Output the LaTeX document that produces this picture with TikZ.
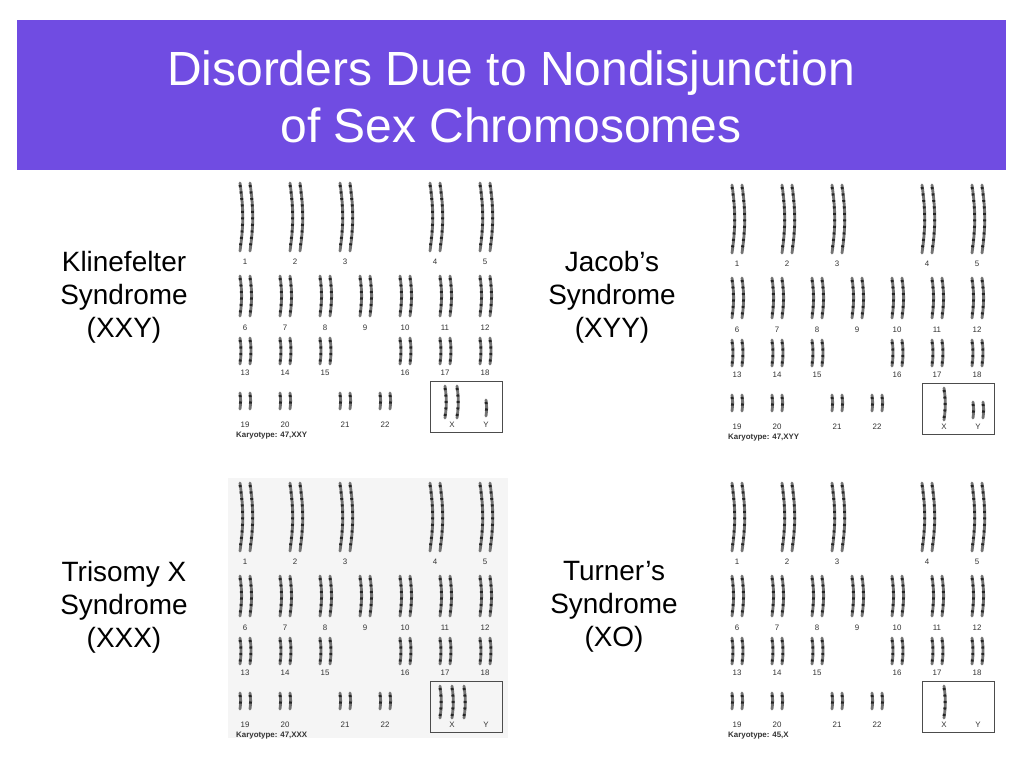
\documentclass[tikz,border=0pt]{standalone}
\usepackage{fontspec}
\setmainfont{Liberation Sans}
\begin{document}
\begin{tikzpicture}[x=0.02cm,y=-0.02cm,
  lbl/.style={align=center,font=\fontsize{15.9}{18.7}\selectfont,text=black},
  num/.style={font=\fontsize{4.5}{5}\selectfont,text=black!80},
  captxt/.style={font=\fontsize{4.5}{5}\selectfont\bfseries,text=black!80,anchor=west},
  chrom/.style={line width=1.6pt,line cap=round,draw=black!55},
  band/.style={line width=1.6pt,draw=black!85,dash pattern=on 1.2pt off 2.5pt}]
\fill[white] (0,0) rectangle (1024,768);
\useasboundingbox (0,0) rectangle (1024,768);
\fill[fill={rgb,255:red,112;green,76;blue,226}] (17,20) rectangle (1006,170);
\node[align=center,text=white,font=\fontsize{27.3}{32.5}\selectfont] (title) at (511,97) {Disorders Due to Nondisjunction\\of Sex Chromosomes};
\node[lbl] (kl) at (124,297) {Klinefelter\\Syndrome\\(XXY)};
\node[lbl] (ja) at (612,297) {Jacob’s\\Syndrome\\(XYY)};
\node[lbl] (tr) at (124,607) {Trisomy X\\Syndrome\\(XXX)};
\node[lbl] (tu) at (614,607) {Turner’s\\Syndrome\\(XO)};
\newcommand\chr[3]{\draw[chrom] (#1,#2) to[bend left=8] (#1,#2+#3);\draw[band] (#1,#2+2) to[bend left=8] (#1,#2+#3-2);}
\newcommand\pr[3]{\chr{#1-5}{#2}{#3}\chr{#1+5}{#2}{#3}}
\newcommand\karyo[4]{%
\begin{scope}[shift={(#1,#2)}]
\foreach \c/\n in {15/1,65/2,115/3,205/4,255/5}{\pr{\c}{5}{68}\node[num] at (\c,84) {\n};}
\foreach \c/\n in {15/6,55/7,95/8,135/9,175/10,215/11,255/12}{\pr{\c}{98}{40}\node[num] at (\c,150) {\n};}
\foreach \c/\n in {15/13,55/14,95/15,175/16,215/17,255/18}{\pr{\c}{160}{26}\node[num] at (\c,195) {\n};}
\foreach \c/\n in {15/19,55/20,115/21,155/22}{\pr{\c}{215}{16}\node[num] at (\c,247) {\n};}
\draw[black!70] (200,203) rectangle (272,254);
\node[num] at (222,247) {X}; \node[num] at (256,247) {Y};
#4
\node[captxt] at (0,258) {Karyotype: #3};
\end{scope}}
\karyo{230}{178}{47,XXY}{\chr{215}{208}{32}\chr{227}{208}{32}\chr{256}{222}{16}}
\karyo{722}{180}{47,XYY}{\chr{222}{208}{32}\chr{251}{222}{16}\chr{261}{222}{16}}
\fill[black!4] (228,478) rectangle (508,738);
\karyo{230}{478}{47,XXX}{\chr{210}{208}{32}\chr{222}{208}{32}\chr{234}{208}{32}}
\karyo{722}{478}{45,X}{\chr{222}{208}{32}}
\end{tikzpicture}
\end{document}
